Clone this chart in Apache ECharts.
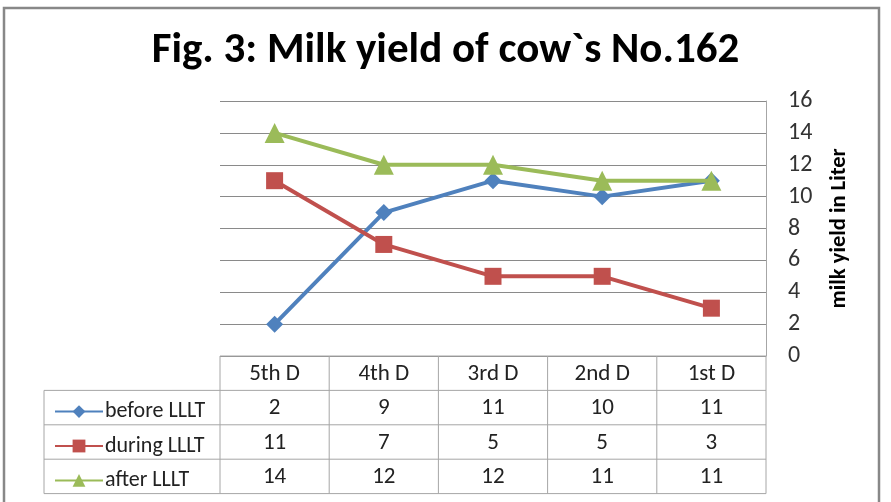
<!DOCTYPE html>
<html><head><meta charset="utf-8">
<script src="https://cdn.jsdelivr.net/npm/echarts@6/dist/echarts.min.js"></script>
<style>html,body{margin:0;padding:0;background:#fff}#c{width:891px;height:502px}</style>
</head><body><div id="c"></div>
<script>
const titleText = "Fig. 3: Milk yield of cow`s No.162";
const categories = ["5th D","4th D","3rd D","2nd D","1st D"];
const seriesNames = ["before LLLT","during LLLT","after LLLT"];
const beforeLLLT = [2,9,11,10,11];
const duringLLLT = [11,7,5,5,3];
const afterLLLT = [14,12,12,11,11];
const yTicks = [0,2,4,6,8,10,12,14,16];
const yAxisName = "milk yield in Liter";

const colors = ["#4F81BD","#C0504D","#9BBB59"];
const symbols = ["diamond","rect","triangle"];
const symbolSizes = [17,17,20];
const values = [beforeLLLT, duringLLLT, afterLLLT];
const font = "Calibri, Carlito, Lato, 'Open Sans', sans-serif";
const textCol = "#222";
const gridCol = "#8a8a8a";
const tableCol = "#a6a6a6";

const chart = echarts.init(document.getElementById('c'), null, {renderer:'canvas'});
const GL = 220, GR = 766, GT = 101, GB = 356;
const rowH = 34.4;
const tableLeft = 44;

const legends = seriesNames.map((n,i)=>({
  orient:'horizontal',left:49,top:GB + rowH*(i+1) + rowH/2 - 13,itemWidth:48,itemHeight:16,
  textStyle:{fontFamily:font,fontSize:22,color:textCol,lineHeight:24,padding:[0,0,0,-3]},
  data:[n]
}));

const option = {
  animation:false,
  backgroundColor:'#fff',
  textStyle:{fontFamily:font},
  title:{text:titleText,left:'center',top:25,textStyle:{fontFamily:font,fontSize:43,fontWeight:'bold',color:'#000'}},
  legend:legends,
  grid:{left:GL,right:891-GR,top:GT,bottom:502-GB,containLabel:false},
  xAxis:{type:'category',data:categories,boundaryGap:true,
    axisLine:{show:false},axisTick:{show:false},
    axisLabel:{fontFamily:font,fontSize:23,color:textCol,margin:7},
    splitLine:{show:false}},
  yAxis:{type:'value',position:'right',min:yTicks[0],max:yTicks[yTicks.length-1],interval:2,
    name:yAxisName,nameLocation:'middle',nameRotate:90,nameGap:62,
    nameTextStyle:{fontFamily:font,fontSize:22.5,fontWeight:'bold',color:'#000'},
    axisLine:{show:true,lineStyle:{color:tableCol,width:1}},axisTick:{show:false},
    axisLabel:{fontFamily:font,fontSize:24,color:'#333',margin:22,align:'left'},
    splitLine:{show:true,lineStyle:{color:gridCol,width:1}}},
  series: seriesNames.map((n,i)=>({
    name:n,type:'line',data:values[i],symbol:symbols[i],symbolSize:symbolSizes[i],
    lineStyle:{color:colors[i],width:4},itemStyle:{color:colors[i]},z:3+i
  }))
};
chart.setOption(option);

const g = [];
const xs = categories.map((c,i)=>chart.convertToPixel({xAxisIndex:0},i));
const colW = (GR-GL)/categories.length;
const tableBottom = GB + rowH*4;
g.push({type:'rect',shape:{x:4,y:8,width:875,height:520},style:{fill:'none',stroke:'#888',lineWidth:2.5},silent:true,z:0});
g.push({type:'line',shape:{x1:GL,y1:GB,x2:GR,y2:GB},style:{stroke:tableCol,lineWidth:1},z:1});
for(let r=1;r<=4;r++){
  g.push({type:'line',shape:{x1:tableLeft,y1:GB+rowH*r,x2:GR,y2:GB+rowH*r},style:{stroke:tableCol,lineWidth:1},z:1});
}
g.push({type:'line',shape:{x1:tableLeft,y1:GB+rowH,x2:tableLeft,y2:tableBottom},style:{stroke:tableCol,lineWidth:1},z:1});
for(let k=0;k<=categories.length;k++){
  const x = GL + colW*k;
  g.push({type:'line',shape:{x1:x,y1:GB,x2:x,y2:tableBottom},style:{stroke:tableCol,lineWidth:1},z:1});
}
values.forEach((arr,si)=>{
  arr.forEach((v,ci)=>{
    g.push({type:'text',x:xs[ci],y:GB+rowH*(si+1)+rowH/2+1,style:{text:String(v),fontFamily:font,fontSize:23,fill:textCol,align:'center',verticalAlign:'middle'},z:2});
  });
});
chart.setOption({graphic:g});
</script></body></html>
